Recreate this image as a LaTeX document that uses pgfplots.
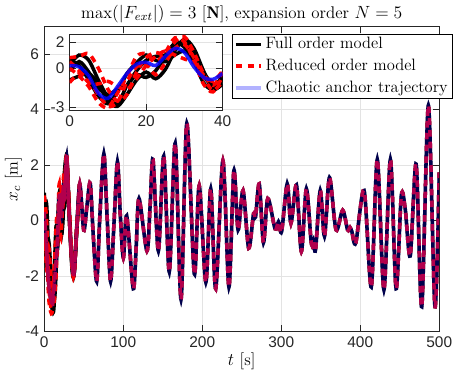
\documentclass[border=0pt]{standalone}
\usepackage{fontspec}
\usepackage{pgfplots}
\usepackage{pgfplotstable}
\pgfplotsset{compat=1.18}
\newfontfamily\tickfont{Liberation Sans}
\definecolor{axgray}{RGB}{38,38,38}

% anchor trajectory
\pgfplotstableread{
t x
0 0.3
3 -1.0
6 -2.4
10.5 -3.0
13.5 -2.0
16.5 -0.9
19 0.9
21.5 0.1
24.5 1.3
26 0.8
28.4 2.3
31.5 0.3
34.5 -1.3
37.6 -1.95
41 -0.4
45 1.32
50 -0.35
54 0.5
58.2 1.35
62 -0.5
66.5 -2.2
70.5 0.2
75.5 2.4
79.5 0.2
84 -2.2
88.5 0.0
92.7 2.12
96.5 0.1
100.2 -1.35
104.4 0.17
112.7 -2.46
116.5 -0.9
120 0.79
130 -1.1
134 0.5
137.7 2.2
144.5 -1.1
151.3 2.32
158.3 -1.85
165.8 2.78
173.2 -2.85
180.5 3.5
190 -1.93
196.2 1.26
204.6 -2.23
210.8 1.14
217.1 -2.46
226.2 2.15
233.8 -2.4
240 1.79
245.4 -0.34
251.7 1.08
258.8 -1.0
265 0.25
267.5 0.12
272.2 1.32
277.5 -0.8
283 0.79
292.2 -0.3
296.5 -0.05
300.5 -0.4
307.6 1.32
312.3 -0.1
319.3 1.28
325.5 -1.12
331.8 1.14
338 -0.8
340.5 -0.72
343.5 -1.05
349.4 1.08
354.8 -0.57
361.1 1.55
369.4 -0.34
377.8 0.37
384 -0.34
387 -0.25
389.4 -0.4
394.4 -0.81
404.9 1.08
414 -2.4
421.6 2.2
430 -2.5
438.2 2.2
445.4 -2.46
452 0.9
457 0.4
463.3 -1.28
470.8 2.03
477.9 -3.11
486.3 4.15
494.6 -3.11
500 1.73
}\anchortab

\pgfplotsset{
  fom/.style={black, line width=2.4pt, smooth},
  rom/.style={red, line width=2.4pt, dash pattern=on 4.5pt off 3.5pt, smooth},
  anc/.style={blue, line width=2.4pt, smooth},
  matlab/.style={
    scale only axis,
    axis line style={axgray, line width=0.5pt},
    tick style={axgray, line width=0.5pt},
    grid=major,
    grid style={gray!22, line width=0.4pt},
    tick label style={font=\tickfont\fontsize{10.5}{12}\selectfont, text=axgray},
    /pgf/number format/assume math mode=true,
  },
}

\begin{document}
\begin{tikzpicture}
\begin{axis}[
    matlab,
    name=main,
    width=268.6pt, height=207.5pt,
    xmin=0, xmax=500, ymin=-4, ymax=7,
    xtick={0,100,...,500},
    ytick={-4,-2,0,2,4,6},
    xlabel={$t$ [s]},
    ylabel={$x_c$ [m]},
    label style={font=\fontsize{11.5}{13}\selectfont},
    xlabel style={yshift=3pt},
    ylabel style={yshift=-4.5pt},
    title={$\max(|F_{ext}|) = 3$ [$\mathbf{N}$], expansion order $N = 5$},
    title style={font=\fontsize{11.5}{13}\selectfont, yshift=-7pt},
    legend cell align=left,
    legend style={at={(1.033,0.976)}, anchor=north east,
        font=\fontsize{11.2}{13}\selectfont, draw=black, fill=white,
        inner xsep=1pt, inner ysep=0.5pt, row sep=1.5pt},
]
\addlegendimage{black, line width=2.4pt}
\addlegendentry{Full order model}
\addlegendimage{red, line width=2.4pt, dash pattern=on 4.5pt off 3.5pt}
\addlegendentry{Reduced order model}
\addlegendimage{blue!30, line width=2.4pt}
\addlegendentry{Chaotic anchor trajectory}

% full order model, ensemble start
\addplot[fom, forget plot] coordinates {(0,1.0)(3,-0.5)(6,-2.0)(9,-3.0)(12,-3.25)(15,-1.5)(18,0.3)(21,-0.2)(24,1.0)(26,0.5)(28.4,2.1)(32,0.0)(35,-1.7)(37.6,-2.0)(41,-0.5)(45,1.32)};
\addplot[fom, forget plot] coordinates {(0,-0.5)(3,-1.6)(6,-0.8)(9,-2.2)(11,-3.0)(14,-2.5)(17,-0.3)(19,1.0)(22,-0.5)(25,1.5)(28.4,2.35)(31,0.8)(34,-1.0)(37.6,-1.9)(41,-0.3)(45,1.3)};
\addplot[fom, forget plot] coordinates {(0,0.2)(3,0.6)(6,-1.5)(9,-2.8)(12,-2.3)(15,-0.2)(17,-1.0)(20,0.8)(23,-0.3)(26,1.6)(28.4,2.2)(31.5,0.4)(35,-1.5)(37.6,-2.0)(41,-0.4)(45,1.32)};
\addplot[fom, forget plot] table[x=t, y=x] {\anchortab};
% reduced order model
\addplot[rom, forget plot] coordinates {(0,0.9)(3,0.0)(6,-2.4)(9,-3.2)(11,-2.6)(14,-1.1)(16.7,-1.15)(18.8,1.3)(21,0.4)(25,1.73)(27,1.2)(28.4,2.4)(32,0.2)(35,-1.6)(37.6,-2.0)(41,-0.4)(45,1.32)};
\addplot[rom, forget plot] coordinates {(0,-0.7)(3,-1.3)(6,-2.9)(10,-3.3)(13,-1.5)(16,0.2)(18,-0.4)(21,1.2)(23,0.4)(26,1.4)(28.4,2.3)(31,0.6)(34,-1.1)(37.6,-1.95)(41,-0.4)(45,1.32)};
\addplot[rom, forget plot] coordinates {(0,0.4)(3,-1.8)(6,-1.0)(8,-1.8)(12,-3.0)(15,-2.0)(18,0.4)(21,-0.6)(24,1.0)(27,1.8)(28.4,2.2)(32,0.3)(35,-1.4)(37.6,-1.9)(41,-0.4)(45,1.32)};
\addplot[rom, forget plot] table[x=t, y=x] {\anchortab};
% anchor
\addplot[anc, opacity=0.3, forget plot] table[x=t, y=x] {\anchortab};
\end{axis}

\begin{axis}[
    matlab,
    at={(main.north west)}, anchor=north west,
    xshift=17.3pt, yshift=-5.7pt,
    width=104pt, height=51.4pt,
    xmin=0, xmax=40, ymin=-3.2, ymax=2.55,
    xtick={0,20,40}, ytick={-3,0,2},
    axis background/.style={fill=white},
]
\addplot[fom] coordinates {(0,0.3)(2.5,1.0)(5,0.6)(7.5,-0.9)(10,-2.2)(12.5,-2.7)(15,-1.3)(17.5,-0.2)(20,0.6)(22.5,0.9)(25,1.0)(27.5,1.9)(30,1.6)(32.5,0.5)(35,-1.1)(37.5,-1.6)(40,-0.5)};
\addplot[fom] coordinates {(0,-0.2)(2.5,0.5)(5,-0.3)(7.5,-1.5)(10,-2.0)(12.5,-1.6)(15,-1.3)(17.5,-0.5)(20,-0.7)(22.5,-0.2)(25,0.9)(27.5,1.7)(30,2.0)(32.5,1.0)(35,-0.3)(37.5,-1.2)(40,-0.8)};
\addplot[fom] coordinates {(0,0.6)(2.5,0.2)(5,-0.9)(7.5,-2.1)(10,-2.7)(12.5,-1.8)(15,-0.4)(17.5,0.4)(20,1.0)(22.5,0.6)(25,0.5)(27.5,1.0)(30,1.3)(32.5,0.7)(35,-0.6)(37.5,-1.3)(40,-0.9)};
\addplot[fom] coordinates {(0,-0.9)(2.5,-0.6)(5,-0.4)(7.5,-1.2)(10,-2.5)(12.5,-2.9)(15,-2.0)(17.5,-0.9)(20,-0.3)(22.5,-0.8)(25,-0.1)(27.5,1.3)(30,2.2)(32.5,1.5)(35,-0.2)(37.5,-1.6)(40,-1.2)};
\addplot[rom] coordinates {(0,0.8)(2.5,0.9)(5,1.1)(7.5,0.0)(10,-1.6)(12.5,-2.5)(15,-2.0)(17.5,-0.3)(20,0.8)(22.5,1.2)(25,1.0)(27.5,2.0)(30,2.4)(32.5,1.2)(35,-0.4)(37.5,-1.3)(40,-0.3)};
\addplot[rom] coordinates {(0,-1.1)(2.5,-0.4)(5,-0.9)(7.5,-2.0)(10,-2.9)(12.5,-2.6)(15,-1.0)(17.5,0.1)(20,0.3)(22.5,-0.5)(25,0.4)(27.5,1.5)(30,1.8)(32.5,0.8)(35,-0.7)(37.5,-1.7)(40,-1.0)};
\addplot[rom] coordinates {(0,0.0)(2.5,-0.6)(5,-1.4)(7.5,-2.6)(10,-3.0)(12.5,-1.9)(15,-0.6)(17.5,0.9)(20,1.1)(22.5,0.5)(25,1.2)(27.5,2.3)(30,2.0)(32.5,0.6)(35,-1.2)(37.5,-1.8)(40,-0.6)};
\addplot[rom] coordinates {(0,0.5)(2.5,-0.2)(5,-1.1)(7.5,-1.2)(10,-1.0)(12.5,-1.4)(15,-1.6)(17.5,-0.8)(20,0.2)(22.5,0.9)(25,1.3)(27.5,1.0)(30,0.7)(32.5,0.4)(35,-0.5)(37.5,-1.0)(40,-0.2)};
\addplot[anc, opacity=0.85] coordinates {(0,0.2)(2.5,0.1)(5,-0.6)(7.5,-1.9)(10,-2.3)(12.5,-1.4)(15,-0.4)(17.5,0.3)(20,0.45)(22.5,0.2)(25,0.9)(27.5,1.5)(30,1.2)(32.5,0.1)(35,-0.7)(37.5,-0.85)(40,-0.4)};
\end{axis}
\end{tikzpicture}
\end{document}
